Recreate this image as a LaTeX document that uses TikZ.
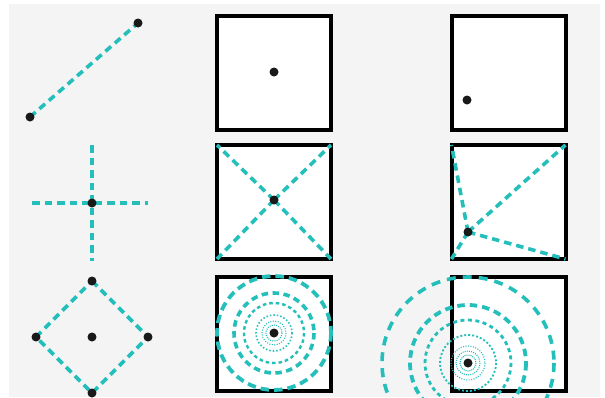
\documentclass[tikz,border=0pt]{standalone}
\definecolor{aqua}{RGB}{36,191,186}
\definecolor{paper}{RGB}{244,244,244}

\begin{document}
\begin{tikzpicture}[x=1pt, y=-1pt,
  dot/.style={circle, fill=black!90, minimum size=9pt, inner sep=0pt},
  frame/.style={draw, line width=4pt, fill=white, minimum size=114pt,
    inner sep=0pt, outer sep=0pt},
  dline/.style={aqua, line width=3.6pt, dash pattern=on 7.5pt off 5pt}]
  \fill[white] (0,0) rectangle (605,397);
  \fill[paper] (9,4) rectangle (600,397);
  \clip (0,0) rectangle (605,397);

  % boxes
  \node[frame] (b1) at (274,73) {};
  \node[frame] (b2) at (508.5,73) {};
  \node[frame] (b3) at (274,202) {};
  \node[frame] (b4) at (508.5,202) {};
  \node[frame] (b5) at (274,333.5) {};
  \node[frame] (b6) at (508.5,333.5) {};

  % points
  \coordinate (s1) at (30,117);  \coordinate (s2) at (138,23);
  \coordinate (c0) at (92,203);
  \coordinate (cn) at (92,145);  \coordinate (cs) at (92,261);
  \coordinate (cw) at (32,203);  \coordinate (ce) at (148,203);
  \coordinate (qn) at (92,281);  \coordinate (qs) at (92,393);
  \coordinate (qw) at (36,337);  \coordinate (qe) at (148,337);
  \coordinate (qc) at (92,337);
  \coordinate (m1) at (274,72);  \coordinate (m2) at (274,200);
  \coordinate (m3) at (274,333);
  \coordinate (k1) at (467,100); \coordinate (k2) at (468,232);
  \coordinate (k3) at (468,363);

  \draw[dline] (s1) -- (s2);
  \draw[dline] (cn) -- (cs);
  \draw[dline] (cw) -- (ce);
  \draw[dline] (qn) -- (qe) -- (qs) -- (qw) -- cycle;
  \foreach \a in {north west, north east, south west, south east} {
    \draw[dline] (m2) -- (b3.\a);
    \draw[dline] (k2) -- (b4.\a);
  }

  % rings
  \foreach \r/\w/\on/\off in {57/3.8/8.5/5, 40/3.6/6.5/4.5, 30/2.4/3.5/3,
      18/1.6/1.5/2, 12/1.1/1/1.5, 8/1.1/1/1.2}
    \draw[aqua, line width=\w pt, dash pattern=on \on pt off \off pt]
      (m3) circle (\r);
  \foreach \r/\w/\on/\off in {86/3.6/9/7, 58/3.8/7.5/5, 43/2.8/4/3.5,
      28/1.8/2/2, 17/1.1/1/1.5, 12/1.1/1/1.2, 8/1.1/1/1}
    \draw[aqua, line width=\w pt, dash pattern=on \on pt off \off pt]
      (k3) circle (\r);

  % dots
  \foreach \p in {s1, s2, c0, qn, qs, qw, qe, qc, m1, m2, m3, k1, k2, k3}
    \node[dot] (d\p) at (\p) {};
\end{tikzpicture}
\end{document}
